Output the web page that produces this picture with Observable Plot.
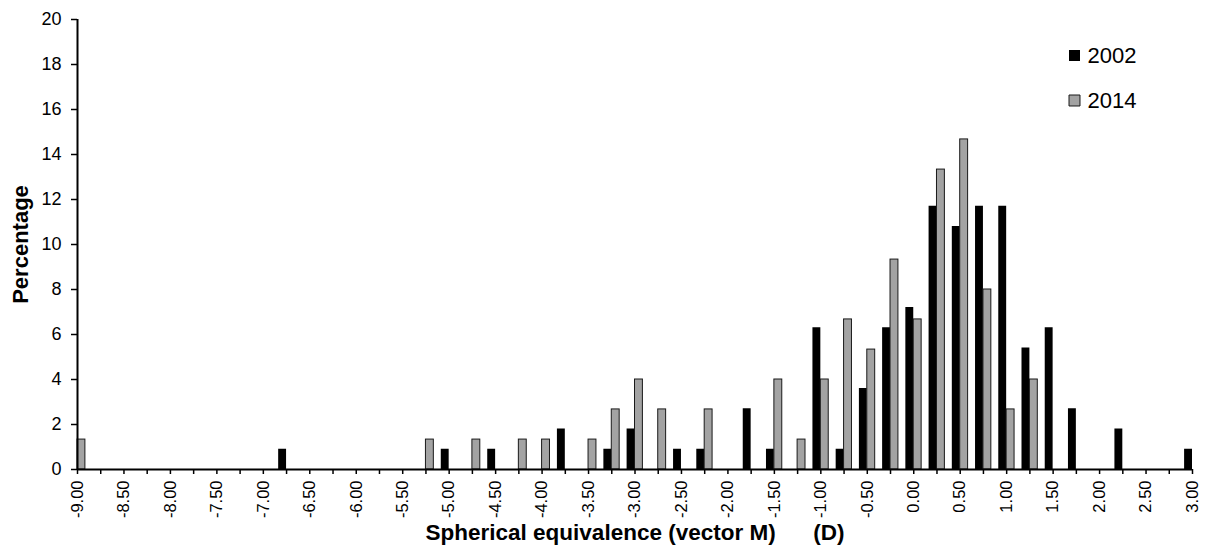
<!DOCTYPE html>
<html>
<head>
<meta charset="utf-8">
<script src="https://cdn.jsdelivr.net/npm/d3@7"></script>
<script src="https://cdn.jsdelivr.net/npm/@observablehq/plot@0.6"></script>
<style>
  html, body { margin: 0; padding: 0; background: #fff; }
  #chart { width: 1205px; height: 559px; }
</style>
</head>
<body>
<div id="chart"></div>
<script>
// Spherical equivalence bins (D), 0.25 D apart
const bins = [
  -9.00, -8.75, -8.50, -8.25, -8.00, -7.75, -7.50, -7.25, -7.00, -6.75,
  -6.50, -6.25, -6.00, -5.75, -5.50, -5.25, -5.00, -4.75, -4.50, -4.25,
  -4.00, -3.75, -3.50, -3.25, -3.00, -2.75, -2.50, -2.25, -2.00, -1.75,
  -1.50, -1.25, -1.00, -0.75, -0.50, -0.25, 0.00, 0.25, 0.50, 0.75,
  1.00, 1.25, 1.50, 1.75, 2.00, 2.25, 2.50, 2.75, 3.00
];

// Percentage of subjects in each bin
const pct2002 = [
  0, 0, 0, 0, 0, 0, 0, 0, 0, 0.9,
  0, 0, 0, 0, 0, 0, 0.9, 0, 0.9, 0,
  0, 1.8, 0, 0.9, 1.8, 0, 0.9, 0.9, 0, 2.7,
  0.9, 0, 6.3, 0.9, 3.6, 6.3, 7.2, 11.7, 10.8, 11.7,
  11.7, 5.4, 6.3, 2.7, 0, 1.8, 0, 0, 0.9
];
const pct2014 = [
  1.33, 0, 0, 0, 0, 0, 0, 0, 0, 0,
  0, 0, 0, 0, 0, 1.33, 0, 1.33, 0, 1.33,
  1.33, 0, 1.33, 2.67, 4.0, 2.67, 0, 2.67, 0, 0,
  4.0, 1.33, 4.0, 6.67, 5.33, 9.33, 6.67, 13.33, 14.67, 8.0,
  2.67, 4.0, 0, 0, 0, 0, 0, 0, 0
];

const years = ["2002", "2014"];
const yTicks = [0, 2, 4, 6, 8, 10, 12, 14, 16, 18, 20];

// Width of one bar, in dioptres (each bin holds a pair)
const barW = 0.085;

const rows2002 = bins.map((b, i) => ({bin: b, pct: pct2002[i]})).filter(d => d.pct > 0);
const rows2014 = bins.map((b, i) => ({bin: b, pct: pct2014[i]})).filter(d => d.pct > 0);

const isHalf = v => Math.abs(v * 2 - Math.round(v * 2)) < 1e-9;

const gray = "#a3a3a3";
const edge = "#1a1a1a";

const chart = Plot.plot({
  width: 1205,
  height: 559,
  marginLeft: 77,
  marginRight: 13,
  marginTop: 19,
  marginBottom: 90,
  style: {fontFamily: "'Liberation Sans', Arial, sans-serif", color: "#000", background: "#fff"},
  x: {type: "linear", domain: [-9, 3]},
  y: {domain: [0, 20]},
  marks: [
    // 2002 bars sit left of the bin tick, 2014 bars right of it
    Plot.rectY(rows2002, {x1: d => d.bin - barW, x2: d => d.bin, y: "pct", fill: "#000"}),
    Plot.rectY(rows2014, {x1: d => d.bin, x2: d => d.bin + barW, y: "pct", fill: gray, stroke: edge, strokeWidth: 1}),
    Plot.axisX({
      ticks: bins, tickSize: 5, tickPadding: 6, tickRotate: -90,
      tickFormat: d => isHalf(d) ? d.toFixed(2) : "",
      fontSize: 16.5, label: null, stroke: "#000", strokeWidth: 1.5
    }),
    Plot.axisY({
      ticks: yTicks, tickSize: 6, tickPadding: 10,
      fontSize: 18, label: null, stroke: "#000", strokeWidth: 1.5
    }),
    Plot.ruleY([0], {stroke: "#000", strokeWidth: 2}),
    Plot.ruleX([-9], {stroke: "#000", strokeWidth: 2}),
    Plot.text(["Spherical equivalence (vector M)\u00a0\u00a0\u00a0\u00a0\u00a0\u00a0(D)"], {
      frameAnchor: "bottom", dy: 70, fontSize: 22.5, fontWeight: "bold", fill: "#000"
    }),
    Plot.text(["Percentage"], {
      frameAnchor: "left", textAnchor: "middle", rotate: -90, dx: -57,
      fontSize: 22, fontWeight: "bold", fill: "#000"
    }),
    // legend
    Plot.dot([years[0]], {frameAnchor: "top-right", dx: -118, dy: 36, symbol: "square", r: 6.2, fill: "#000"}),
    Plot.text([years[0]], {frameAnchor: "top-right", dx: -105, dy: 36, textAnchor: "start", lineAnchor: "middle", fontSize: 22, fill: "#000"}),
    Plot.dot([years[1]], {frameAnchor: "top-right", dx: -118, dy: 81, symbol: "square", r: 6.2, fill: gray, stroke: edge, strokeWidth: 1}),
    Plot.text([years[1]], {frameAnchor: "top-right", dx: -105, dy: 81, textAnchor: "start", lineAnchor: "middle", fontSize: 22, fill: "#000"})
  ]
});

document.getElementById("chart").appendChild(chart);
</script>
</body>
</html>
